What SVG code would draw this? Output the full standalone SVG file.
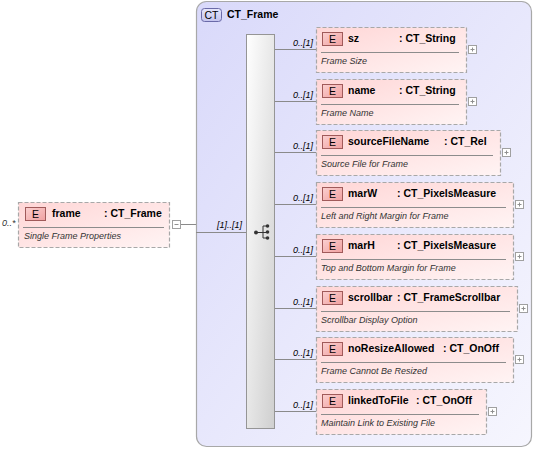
<svg xmlns="http://www.w3.org/2000/svg" width="536" height="450" viewBox="0 0 536 450">
<defs>
<linearGradient id="gCt" x1="0" y1="0" x2="1" y2="1"><stop offset="0" stop-color="#d9d9fa"/><stop offset="1" stop-color="#f6f6fe"/></linearGradient>
<linearGradient id="gEl" x1="0" y1="0" x2="1" y2="1"><stop offset="0" stop-color="#ffd6d6"/><stop offset="1" stop-color="#fff4f4"/></linearGradient>
<linearGradient id="gBadge" x1="0" y1="0" x2="1" y2="1"><stop offset="0" stop-color="#fbd0d0"/><stop offset="1" stop-color="#f0a0a0"/></linearGradient>
<linearGradient id="gSeq" x1="0" y1="0" x2="1" y2="1"><stop offset="0" stop-color="#ffffff"/><stop offset="1" stop-color="#cfcfcf"/></linearGradient>
<linearGradient id="gCtB" x1="0" y1="0" x2="0" y2="1"><stop offset="0" stop-color="#e6e6fb"/><stop offset="1" stop-color="#c4c4ee"/></linearGradient>
</defs>
<style>
text{font-family:"Liberation Sans",Arial,sans-serif;fill:#000}
.el{fill:url(#gEl);stroke:#a8a8a8;stroke-width:1.2;stroke-dasharray:4,2}
.badge{fill:url(#gBadge);stroke:#a05a5a;stroke-width:1}
.bt{font-size:10.5px;text-anchor:middle}
.nm{font-size:10.5px;font-weight:bold}
.ds{font-size:9px;font-style:italic;fill:#333}
.sep{stroke:#8c8c8c;stroke-width:1}
.occ{font-size:9px;font-style:italic;text-anchor:end}
.con{stroke:#8a8a8a;stroke-width:1;fill:none}
.pm{fill:#fff;stroke:#a0a0a0;stroke-width:1}
.pms{stroke:#909090;stroke-width:1}
</style>
<g id="CT_Frame">
<rect x="196.5" y="1.5" width="335" height="445" rx="10" fill="url(#gCt)" stroke="#a8a8a8" stroke-width="1.2"/>
<rect x="201.5" y="8.5" width="20" height="13" rx="3" fill="url(#gCtB)" stroke="#6a6aa8"/>
<text x="211.5" y="18.5" class="bt">CT</text>
<text x="227" y="18" class="nm">CT_Frame</text>
</g>
<g id="connectors">
<line x1="181" y1="224.5" x2="196" y2="224.5" class="con"/>
<line x1="196" y1="232.5" x2="246" y2="232.5" class="con"/>
<text x="242" y="228" class="occ">[1]..[1]</text>
<line x1="275" y1="49.5" x2="316" y2="49.5" class="con"/>
<line x1="275" y1="101.5" x2="316" y2="101.5" class="con"/>
<line x1="275" y1="152.5" x2="316" y2="152.5" class="con"/>
<line x1="275" y1="204.5" x2="316" y2="204.5" class="con"/>
<line x1="275" y1="256.5" x2="316" y2="256.5" class="con"/>
<line x1="275" y1="308.5" x2="316" y2="308.5" class="con"/>
<line x1="275" y1="359.5" x2="316" y2="359.5" class="con"/>
<line x1="275" y1="411.5" x2="316" y2="411.5" class="con"/>
<text x="313" y="46" class="occ">0..[1]</text>
<text x="313" y="98" class="occ">0..[1]</text>
<text x="313" y="149" class="occ">0..[1]</text>
<text x="313" y="201" class="occ">0..[1]</text>
<text x="313" y="253" class="occ">0..[1]</text>
<text x="313" y="305" class="occ">0..[1]</text>
<text x="313" y="356" class="occ">0..[1]</text>
<text x="313" y="408" class="occ">0..[1]</text>
</g>
<g id="sequence">
<rect x="246.5" y="34.5" width="28" height="394" fill="url(#gSeq)" stroke="#959595"/>
<line x1="256" y1="232.5" x2="263" y2="232.5" stroke="#333"/>
<circle cx="256" cy="232.5" r="2" fill="#333"/>
<line x1="263" y1="226" x2="263" y2="238" stroke="#333"/>
<line x1="263" y1="226" x2="267" y2="226" stroke="#333"/>
<line x1="263" y1="238" x2="267" y2="238" stroke="#333"/>
<line x1="263" y1="232.5" x2="267" y2="232.5" stroke="#333"/>
<circle cx="267.5" cy="226" r="1.8" fill="#333"/>
<circle cx="267.5" cy="232" r="1.8" fill="#333"/>
<circle cx="267.5" cy="238" r="1.8" fill="#333"/>
</g>
<g id="frame">
<text x="2" y="226" class="ds" fill="#000">0..*</text>
<rect x="18.5" y="202.5" width="151" height="45" class="el"/>
<rect x="25.5" y="207.5" width="20" height="13" class="badge"/>
<text x="35.5" y="217.5" class="bt">E</text>
<text x="52" y="217" class="nm">frame</text>
<text x="104" y="217" class="nm">: CT_Frame</text>
<line x1="23" y1="227.5" x2="164" y2="227.5" class="sep"/>
<text x="24" y="239" class="ds">Single Frame Properties</text>
<rect x="172.5" y="220.5" width="8" height="8" class="pm"/>
<line x1="174.5" y1="224.5" x2="178.5" y2="224.5" class="pms"/>
</g>
<g id="sz">
<rect x="316.5" y="27.5" width="150" height="45" class="el"/>
<rect x="322.5" y="32.5" width="20" height="13" class="badge"/>
<text x="332.5" y="42.5" class="bt">E</text>
<text x="348" y="42" class="nm">sz</text>
<text x="399" y="42" class="nm">: CT_String</text>
<line x1="321" y1="52.5" x2="459" y2="52.5" class="sep"/>
<text x="321" y="64" class="ds">Frame Size</text>
<rect x="468.5" y="45.5" width="8" height="8" class="pm"/>
<line x1="470.5" y1="49.5" x2="474.5" y2="49.5" class="pms"/><line x1="472.5" y1="47.5" x2="472.5" y2="51.5" class="pms"/>
</g>
<g id="name">
<rect x="316.5" y="79.5" width="150" height="45" class="el"/>
<rect x="322.5" y="84.5" width="20" height="13" class="badge"/>
<text x="332.5" y="94.5" class="bt">E</text>
<text x="348" y="94" class="nm">name</text>
<text x="399" y="94" class="nm">: CT_String</text>
<line x1="321" y1="104.5" x2="459" y2="104.5" class="sep"/>
<text x="321" y="116" class="ds">Frame Name</text>
<rect x="468.5" y="97.5" width="8" height="8" class="pm"/>
<line x1="470.5" y1="101.5" x2="474.5" y2="101.5" class="pms"/><line x1="472.5" y1="99.5" x2="472.5" y2="103.5" class="pms"/>
</g>
<g id="sourceFileName">
<rect x="316.5" y="130.5" width="184" height="45" class="el"/>
<rect x="322.5" y="135.5" width="20" height="13" class="badge"/>
<text x="332.5" y="145.5" class="bt">E</text>
<text x="348" y="145" class="nm">sourceFileName</text>
<text x="444" y="145" class="nm">: CT_Rel</text>
<line x1="321" y1="155.5" x2="493" y2="155.5" class="sep"/>
<text x="321" y="167" class="ds">Source File for Frame</text>
<rect x="502.5" y="148.5" width="8" height="8" class="pm"/>
<line x1="504.5" y1="152.5" x2="508.5" y2="152.5" class="pms"/><line x1="506.5" y1="150.5" x2="506.5" y2="154.5" class="pms"/>
</g>
<g id="marW">
<rect x="316.5" y="182.5" width="197" height="45" class="el"/>
<rect x="322.5" y="187.5" width="20" height="13" class="badge"/>
<text x="332.5" y="197.5" class="bt">E</text>
<text x="348" y="197" class="nm">marW</text>
<text x="397" y="197" class="nm">: CT_PixelsMeasure</text>
<line x1="321" y1="207.5" x2="506" y2="207.5" class="sep"/>
<text x="321" y="219" class="ds">Left and Right Margin for Frame</text>
<rect x="515.5" y="200.5" width="8" height="8" class="pm"/>
<line x1="517.5" y1="204.5" x2="521.5" y2="204.5" class="pms"/><line x1="519.5" y1="202.5" x2="519.5" y2="206.5" class="pms"/>
</g>
<g id="marH">
<rect x="316.5" y="234.5" width="197" height="45" class="el"/>
<rect x="322.5" y="239.5" width="20" height="13" class="badge"/>
<text x="332.5" y="249.5" class="bt">E</text>
<text x="348" y="249" class="nm">marH</text>
<text x="397" y="249" class="nm">: CT_PixelsMeasure</text>
<line x1="321" y1="259.5" x2="506" y2="259.5" class="sep"/>
<text x="321" y="271" class="ds">Top and Bottom Margin for Frame</text>
<rect x="515.5" y="252.5" width="8" height="8" class="pm"/>
<line x1="517.5" y1="256.5" x2="521.5" y2="256.5" class="pms"/><line x1="519.5" y1="254.5" x2="519.5" y2="258.5" class="pms"/>
</g>
<g id="scrollbar">
<rect x="316.5" y="286.5" width="201" height="45" class="el"/>
<rect x="322.5" y="291.5" width="20" height="13" class="badge"/>
<text x="332.5" y="301.5" class="bt">E</text>
<text x="348" y="301" class="nm">scrollbar</text>
<text x="397" y="301" class="nm">: CT_FrameScrollbar</text>
<line x1="321" y1="311.5" x2="510" y2="311.5" class="sep"/>
<text x="321" y="323" class="ds">Scrollbar Display Option</text>
<rect x="519.5" y="304.5" width="8" height="8" class="pm"/>
<line x1="521.5" y1="308.5" x2="525.5" y2="308.5" class="pms"/><line x1="523.5" y1="306.5" x2="523.5" y2="310.5" class="pms"/>
</g>
<g id="noResizeAllowed">
<rect x="316.5" y="337.5" width="197" height="45" class="el"/>
<rect x="322.5" y="342.5" width="20" height="13" class="badge"/>
<text x="332.5" y="352.5" class="bt">E</text>
<text x="348" y="352" class="nm">noResizeAllowed</text>
<text x="443" y="352" class="nm">: CT_OnOff</text>
<line x1="321" y1="362.5" x2="506" y2="362.5" class="sep"/>
<text x="321" y="374" class="ds">Frame Cannot Be Resized</text>
<rect x="515.5" y="355.5" width="8" height="8" class="pm"/>
<line x1="517.5" y1="359.5" x2="521.5" y2="359.5" class="pms"/><line x1="519.5" y1="357.5" x2="519.5" y2="361.5" class="pms"/>
</g>
<g id="linkedToFile">
<rect x="316.5" y="389.5" width="170" height="45" class="el"/>
<rect x="322.5" y="394.5" width="20" height="13" class="badge"/>
<text x="332.5" y="404.5" class="bt">E</text>
<text x="348" y="404" class="nm">linkedToFile</text>
<text x="416" y="404" class="nm">: CT_OnOff</text>
<line x1="321" y1="414.5" x2="479" y2="414.5" class="sep"/>
<text x="321" y="426" class="ds">Maintain Link to Existing File</text>
<rect x="488.5" y="407.5" width="8" height="8" class="pm"/>
<line x1="490.5" y1="411.5" x2="494.5" y2="411.5" class="pms"/><line x1="492.5" y1="409.5" x2="492.5" y2="413.5" class="pms"/>
</g>
</svg>
